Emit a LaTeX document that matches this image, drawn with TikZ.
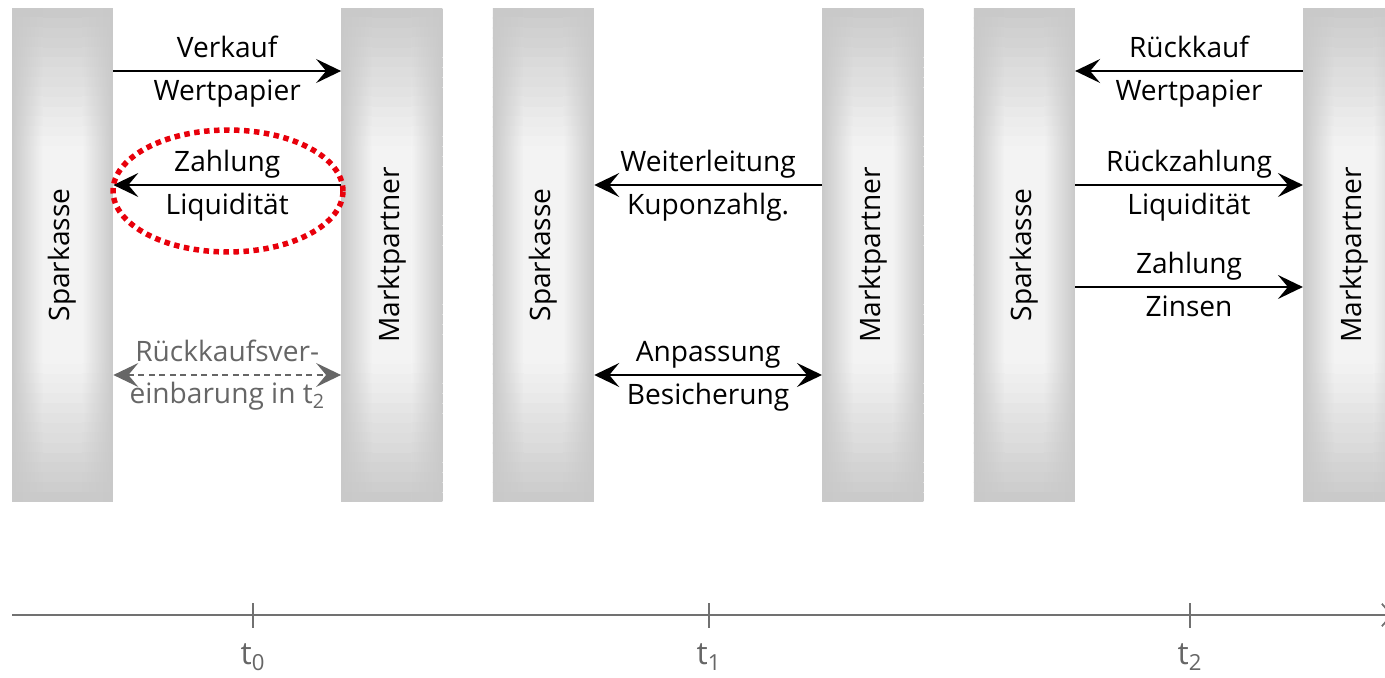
\documentclass[tikz,border=0pt]{standalone}
\usepackage{fontspec}
\setmainfont{Open Sans}
\usetikzlibrary{positioning, arrows.meta, shapes.geometric}
\definecolor{barGray}{HTML}{C9C9C9}
\definecolor{barLight}{HTML}{F3F3F3}
\definecolor{noteGray}{HTML}{666666}
\definecolor{axisGray}{HTML}{717171}
\definecolor{markRed}{HTML}{E8000B}
\tikzset{
    bar/.style={fill=barGray, minimum width=2.02cm, minimum height=9.88cm, inner sep=0mm,
        font=\fontsize{16}{19}\selectfont,
        path picture={
          \foreach \k in {0,...,49}{
            \pgfmathsetmacro\p{100*min(1,min(\k+0.5,49.5-\k)/14)}
            \colorlet{stripc}{barLight!\p!barGray}
            \shade[left color=barGray, right color=stripc]
              ([yshift={-\k*0.1976cm}]path picture bounding box.north west) rectangle
              ([shift={(0.62cm,{-(\k+1)*0.1976cm-0.01cm})}]path picture bounding box.north west);
            \fill[stripc]
              ([shift={(0.61cm,{-\k*0.1976cm})}]path picture bounding box.north west) rectangle
              ([shift={(-0.61cm,{-(\k+1)*0.1976cm-0.01cm})}]path picture bounding box.north east);
            \shade[left color=stripc, right color=barGray]
              ([shift={(-0.62cm,{-\k*0.1976cm})}]path picture bounding box.north east) rectangle
              ([yshift={-(\k+1)*0.1976cm-0.01cm}]path picture bounding box.north east);
          }}},
    lbl/.style={font=\fontsize{16}{19}\selectfont, text height=13pt, text depth=4pt, inner sep=3pt},
    flow/.style={-{Stealth[length=5mm, width=4.8mm, inset=2mm]}, line width=1.1pt},
    both/.style={{Stealth[length=5mm, width=4.8mm, inset=2mm]}-{Stealth[length=5mm, width=4.8mm, inset=2mm]}, line width=1.1pt},
    note/.style={{Stealth[length=5mm, width=4.8mm, inset=2mm]}-{Stealth[length=5mm, width=4.8mm, inset=2mm]}, noteGray, line width=0.8pt, dash pattern=on 1.2mm off 0.9mm},
    focus/.style={ellipse, draw=markRed, line width=1.1mm, dash pattern=on 1.1mm off 0.9mm, minimum width=4.6cm, minimum height=2.44cm},
    axis/.style={axisGray, line width=1pt, -{Straight Barb[length=2mm, width=4.5mm]}},
    tickmark/.style={axisGray, line width=1pt},
    tlbl/.style={font=\fontsize{18}{21}\selectfont, text=noteGray}
}

\begin{document}
\begin{tikzpicture}[x=0.02cm, y=-0.02cm, on grid]
  \useasboundingbox (0,0) rectangle (1385,678);

  % Balken
  \node[bar] (sk1) at (62.5,255) {\rotatebox{90}{Sparkasse}};
  \node[bar, right=6.59cm of sk1] (mp1) {\rotatebox{90}{Marktpartner}};
  \node[bar, right=3.03cm of mp1] (sk2) {\rotatebox{90}{Sparkasse}};
  \node[bar, right=6.59cm of sk2] (mp2) {\rotatebox{90}{Marktpartner}};
  \node[bar, right=3.03cm of mp2] (sk3) {\rotatebox{90}{Sparkasse}};
  \node[bar, right=6.59cm of sk3] (mp3) {\rotatebox{90}{Marktpartner}};

  \coordinate (rA) at (0,71);
  \coordinate (rB) at (0,185);
  \coordinate (rC) at (0,287);
  \coordinate (rD) at (0,375);

  % t0
  \draw[flow] (sk1.east |- rA) -- node[lbl, above] (verkauf) {Verkauf} node[lbl, below] (wp1) {Wertpapier} (mp1.west |- rA);
  \draw[flow] (mp1.west |- rB) -- node[lbl, above] (zahl1) {Zahlung} node[lbl, below] (liq1) {Liquidität} (sk1.east |- rB);
  \draw[note] (sk1.east |- rD) -- node[lbl, above, text=noteGray] (rkv) {Rückkaufsver-} node[lbl, below, text=noteGray] (einb) {einbarung in t\textsubscript{2}} (mp1.west |- rD);
  \node[focus] (mark) at (228,191) {};

  % t1
  \draw[flow] (mp2.west |- rB) -- node[lbl, above] (weiter) {Weiterleitung} node[lbl, below] (kupon) {Kuponzahlg.} (sk2.east |- rB);
  \draw[both] (sk2.east |- rD) -- node[lbl, above] (anp) {Anpassung} node[lbl, below] (bes) {Besicherung} (mp2.west |- rD);

  % t2
  \draw[flow] (mp3.west |- rA) -- node[lbl, above] (rueck) {Rückkauf} node[lbl, below] (wp3) {Wertpapier} (sk3.east |- rA);
  \draw[flow] (sk3.east |- rB) -- node[lbl, above] (rzahl) {Rückzahlung} node[lbl, below] (liq3) {Liquidität} (mp3.west |- rB);
  \draw[flow] (sk3.east |- rC) -- node[lbl, above] (zahl3) {Zahlung} node[lbl, below] (zins) {Zinsen} (mp3.west |- rC);

  % Zeitachse
  \coordinate (axL) at (12,615);
  \coordinate (axR) at (1393,615);
  \draw[axis] (axL) -- (axR);
  \node[tlbl] (t0) at (253,657) {t\textsubscript{0}};
  \node[tlbl] (t1) at (709,657) {t\textsubscript{1}};
  \node[tlbl] (t2) at (1190,657) {t\textsubscript{2}};
  \draw[tickmark] (t0 |- axL) ++(0,-12) -- ++(0,25);
  \draw[tickmark] (t1 |- axL) ++(0,-12) -- ++(0,25);
  \draw[tickmark] (t2 |- axL) ++(0,-12) -- ++(0,25);
\end{tikzpicture}
\end{document}
